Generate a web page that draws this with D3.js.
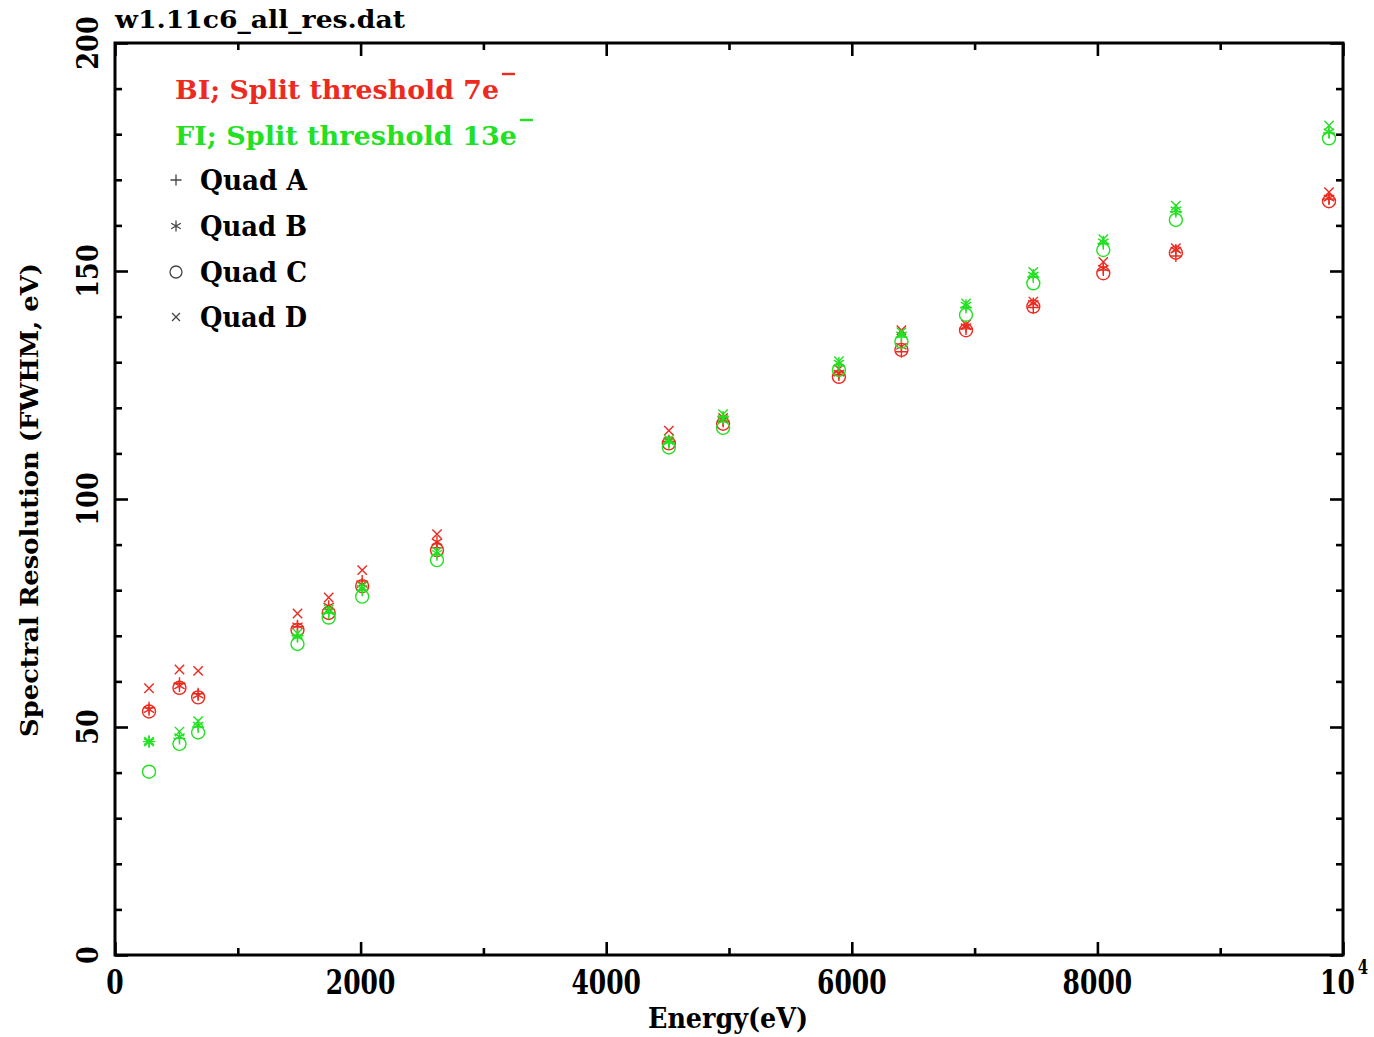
<!DOCTYPE html>
<html>
<head>
<meta charset="utf-8">
<script src="https://cdn.jsdelivr.net/npm/d3@7"></script>
<style>
  html, body { margin: 0; padding: 0; background: #fff; }
  svg { display: block; }
  text { font-family: "DejaVu Serif", "Liberation Serif", serif; font-weight: bold; }
</style>
</head>
<body>
<svg id="chart" width="1374" height="1037"></svg>
<script>
// ---------------- data ----------------
const energies = [277, 525, 677, 1486, 1740, 2013, 2622, 4510, 4952, 5895, 6404, 6930, 7478, 8048, 8639, 9886];

// BI chip, split threshold 7e-
const biQuadA = [54.2, 59.6, 57.3, 72.0, 75.8, 82.0, 89.3, 112.6, 117.0, 127.2, 132.3, 137.3, 142.0, 150.2, 153.3, 165.8];
const biQuadB = [53.8, 59.0, 57.0, 72.2, 76.5, 81.3, 90.6, 112.8, 117.3, 127.6, 133.5, 137.8, 142.9, 150.6, 154.6, 166.0];
const biQuadC = [53.4, 58.6, 56.5, 71.3, 75.0, 80.9, 88.8, 112.2, 116.5, 126.8, 132.7, 137.0, 142.2, 149.5, 154.0, 165.3];
const biQuadD = [58.5, 62.6, 62.3, 74.9, 78.4, 84.4, 92.3, 115.0, 117.8, 128.5, 137.0, 138.3, 143.3, 152.0, 155.0, 167.3];

// FI chip, split threshold 13e-
const fiQuadA = [46.8, 47.5, 50.0, 70.0, 75.0, 80.0, 87.8, 112.3, 118.0, 129.2, 135.5, 142.0, 148.7, 156.0, 163.0, 180.3];
const fiQuadB = [46.8, 47.9, 50.4, 69.8, 75.3, 80.4, 88.1, 112.6, 117.7, 129.8, 136.0, 142.5, 149.1, 156.4, 163.4, 180.5];
const fiQuadC = [40.2, 46.3, 48.8, 68.2, 74.0, 78.6, 86.6, 111.3, 115.6, 128.3, 134.5, 140.4, 147.3, 154.6, 161.2, 179.1];
const fiQuadD = [46.8, 49.0, 51.3, 70.5, 75.8, 80.8, 88.5, 113.0, 118.6, 130.2, 136.6, 142.9, 149.8, 157.0, 164.3, 181.9];

const quadNames = ["Quad A", "Quad B", "Quad C", "Quad D"];
const quadSymbols = ["plus", "asterisk", "circle", "cross"];
const legendTitles = ["BI; Split threshold 7e", "FI; Split threshold 13e"];

const xMajorTicks = [0, 2000, 4000, 6000, 8000, 10000];
const xMinorTicks = [1000, 3000, 5000, 7000, 9000];
const xTickLabels = ["0", "2000", "4000", "6000", "8000", "10"];
const xLastExponent = "4";
const yMajorTicks = [0, 50, 100, 150, 200];
const yMinorTicks = [10, 20, 30, 40, 60, 70, 80, 90, 110, 120, 130, 140, 160, 170, 180, 190];
const yTickLabels = ["0", "50", "100", "150", "200"];

const titleText = "w1.11c6_all_res.dat";
const xLabel = "Energy(eV)";
const yLabel = "Spectral Resolution (FWHM, eV)";

// ---------------- layout ----------------
const svg = d3.select("#chart");
const L = 115, R = 1343, T = 43, B = 955;
const x = d3.scaleLinear().domain([0, 10000]).range([L, R]);
const y = d3.scaleLinear().domain([0, 200]).range([B, T]);

const RED = "#ec2a1f";
const GREEN = "#22e022";

function symbolPath(type, s) {
  const p = d3.path();
  if (type === "plus") {
    p.moveTo(-s, 0); p.lineTo(s, 0); p.moveTo(0, -s); p.lineTo(0, s);
  } else if (type === "cross") {
    const c = s * 0.72;
    p.moveTo(-c, -c); p.lineTo(c, c); p.moveTo(-c, c); p.lineTo(c, -c);
  } else if (type === "asterisk") {
    p.moveTo(0, -s); p.lineTo(0, s);
    const a = Math.PI / 6;
    const dx = s * Math.cos(a), dy = s * Math.sin(a);
    p.moveTo(-dx, -dy); p.lineTo(dx, dy);
    p.moveTo(-dx, dy); p.lineTo(dx, -dy);
  } else if (type === "circle") {
    p.moveTo(s, 0); p.arc(0, 0, s, 0, Math.PI * 2);
  }
  return p.toString();
}
const symbolSize = { plus: 6, cross: 6.5, asterisk: 6, circle: 6.5 };

// ---------------- data marks ----------------
const groups = [
  { color: RED, quads: [biQuadA, biQuadB, biQuadC, biQuadD] },
  { color: GREEN, quads: [fiQuadA, fiQuadB, fiQuadC, fiQuadD] }
];
const marks = svg.append("g");
groups.forEach(g => {
  g.quads.forEach((vals, qi) => {
    const sym = quadSymbols[qi];
    marks.append("g").selectAll("path")
      .data(energies.map((e, i) => ({ e, v: vals[i] })))
      .join("path")
      .attr("transform", d => `translate(${x(d.e)},${y(d.v)})`)
      .attr("d", symbolPath(sym, symbolSize[sym]))
      .attr("fill", "none")
      .attr("stroke", g.color)
      .attr("stroke-width", 1.4);
  });
});

// ---------------- frame & ticks ----------------
const axes = svg.append("g");
function styleAxis(sel) {
  sel.select(".domain").remove();
  sel.selectAll("line").attr("stroke", "#000").attr("stroke-width", 2.6);
  sel.selectAll("text").remove();
}
axes.append("g").attr("transform", `translate(0,${B})`)
  .call(d3.axisBottom(x).tickValues(xMajorTicks).tickSize(-13).tickFormat("")).call(styleAxis);
axes.append("g").attr("transform", `translate(0,${B})`)
  .call(d3.axisBottom(x).tickValues(xMinorTicks).tickSize(-7).tickFormat("")).call(styleAxis);
axes.append("g").attr("transform", `translate(0,${T})`)
  .call(d3.axisTop(x).tickValues(xMajorTicks).tickSize(-13).tickFormat("")).call(styleAxis);
axes.append("g").attr("transform", `translate(0,${T})`)
  .call(d3.axisTop(x).tickValues(xMinorTicks).tickSize(-7).tickFormat("")).call(styleAxis);
axes.append("g").attr("transform", `translate(${L},0)`)
  .call(d3.axisLeft(y).tickValues(yMajorTicks).tickSize(-13).tickFormat("")).call(styleAxis);
axes.append("g").attr("transform", `translate(${L},0)`)
  .call(d3.axisLeft(y).tickValues(yMinorTicks).tickSize(-7).tickFormat("")).call(styleAxis);
axes.append("g").attr("transform", `translate(${R},0)`)
  .call(d3.axisRight(y).tickValues(yMajorTicks).tickSize(-13).tickFormat("")).call(styleAxis);
axes.append("g").attr("transform", `translate(${R},0)`)
  .call(d3.axisRight(y).tickValues(yMinorTicks).tickSize(-7).tickFormat("")).call(styleAxis);

axes.append("rect")
  .attr("x", L).attr("y", T).attr("width", R - L).attr("height", B - T)
  .attr("fill", "none").attr("stroke", "#000").attr("stroke-width", 3);

// ---------------- tick labels ----------------
// glyphs in the reference are tall & narrow: natural width, stretched vertically
const xLabelData = xMajorTicks.map((v, i) => ({ v, t: xTickLabels[i], last: i === xMajorTicks.length - 1 }));
const xt = svg.append("g").selectAll("text")
  .data(xLabelData)
  .join("text")
  .attr("transform", d => `translate(${d.last ? x(d.v) - 23 : x(d.v)},994) scale(1,1.35)`)
  .attr("text-anchor", d => d.last ? "start" : "middle")
  .attr("font-size", 25);
xt.append("tspan").text(d => d.t);
// exponent for 10^4 (same text element, superscript tspan)
xt.filter(d => d.last).append("tspan")
  .attr("dx", 3).attr("dy", -15)
  .attr("font-size", 15)
  .text(xLastExponent);

svg.append("g").selectAll("text")
  .data(yMajorTicks.map((v, i) => ({ v, t: yTickLabels[i] })))
  .join("text")
  .attr("transform", d => `translate(98,${y(d.v)}) rotate(-90)`)
  .attr("text-anchor", "middle")
  .attr("font-size", 29)
  .attr("textLength", d => d.t.length * 17.8)
  .attr("lengthAdjust", "spacingAndGlyphs")
  .text(d => d.t);

// ---------------- titles ----------------
svg.append("text")
  .attr("x", 115).attr("y", 28)
  .attr("font-size", 25)
  .attr("textLength", 290).attr("lengthAdjust", "spacingAndGlyphs")
  .text(titleText);

svg.append("text")
  .attr("x", 728).attr("y", 1028)
  .attr("text-anchor", "middle")
  .attr("font-size", 28)
  .attr("textLength", 160).attr("lengthAdjust", "spacingAndGlyphs")
  .text(xLabel);

svg.append("text")
  .attr("transform", `translate(38,500) rotate(-90)`)
  .attr("text-anchor", "middle")
  .attr("font-size", 25)
  .attr("textLength", 474).attr("lengthAdjust", "spacingAndGlyphs")
  .text(yLabel);

// ---------------- legend ----------------
const legendColors = [RED, GREEN];
const legendRows = [99, 145];
const legendWidths = [324, 342];
legendTitles.forEach((t, i) => {
  svg.append("text")
    .attr("x", 175).attr("y", legendRows[i])
    .attr("font-size", 26)
    .attr("fill", legendColors[i])
    .attr("textLength", legendWidths[i]).attr("lengthAdjust", "spacingAndGlyphs")
    .text(t);
  svg.append("line")
    .attr("x1", 175 + legendWidths[i] + 3).attr("x2", 175 + legendWidths[i] + 16)
    .attr("y1", legendRows[i] - 25).attr("y2", legendRows[i] - 25)
    .attr("stroke", legendColors[i]).attr("stroke-width", 2.4);
});

const quadRows = [180, 226, 272, 317];
quadNames.forEach((name, i) => {
  const sym = quadSymbols[i];
  svg.append("path")
    .attr("transform", `translate(176,${quadRows[i]})`)
    .attr("d", symbolPath(sym, sym === "circle" ? 6 : 5.5))
    .attr("fill", "none").attr("stroke", "#444").attr("stroke-width", 1.3);
  svg.append("text")
    .attr("x", 200).attr("y", quadRows[i] + 10)
    .attr("font-size", 28)
    .attr("fill", "#000")
    .attr("textLength", 107).attr("lengthAdjust", "spacingAndGlyphs")
    .text(name);
});
</script>
</body>
</html>
